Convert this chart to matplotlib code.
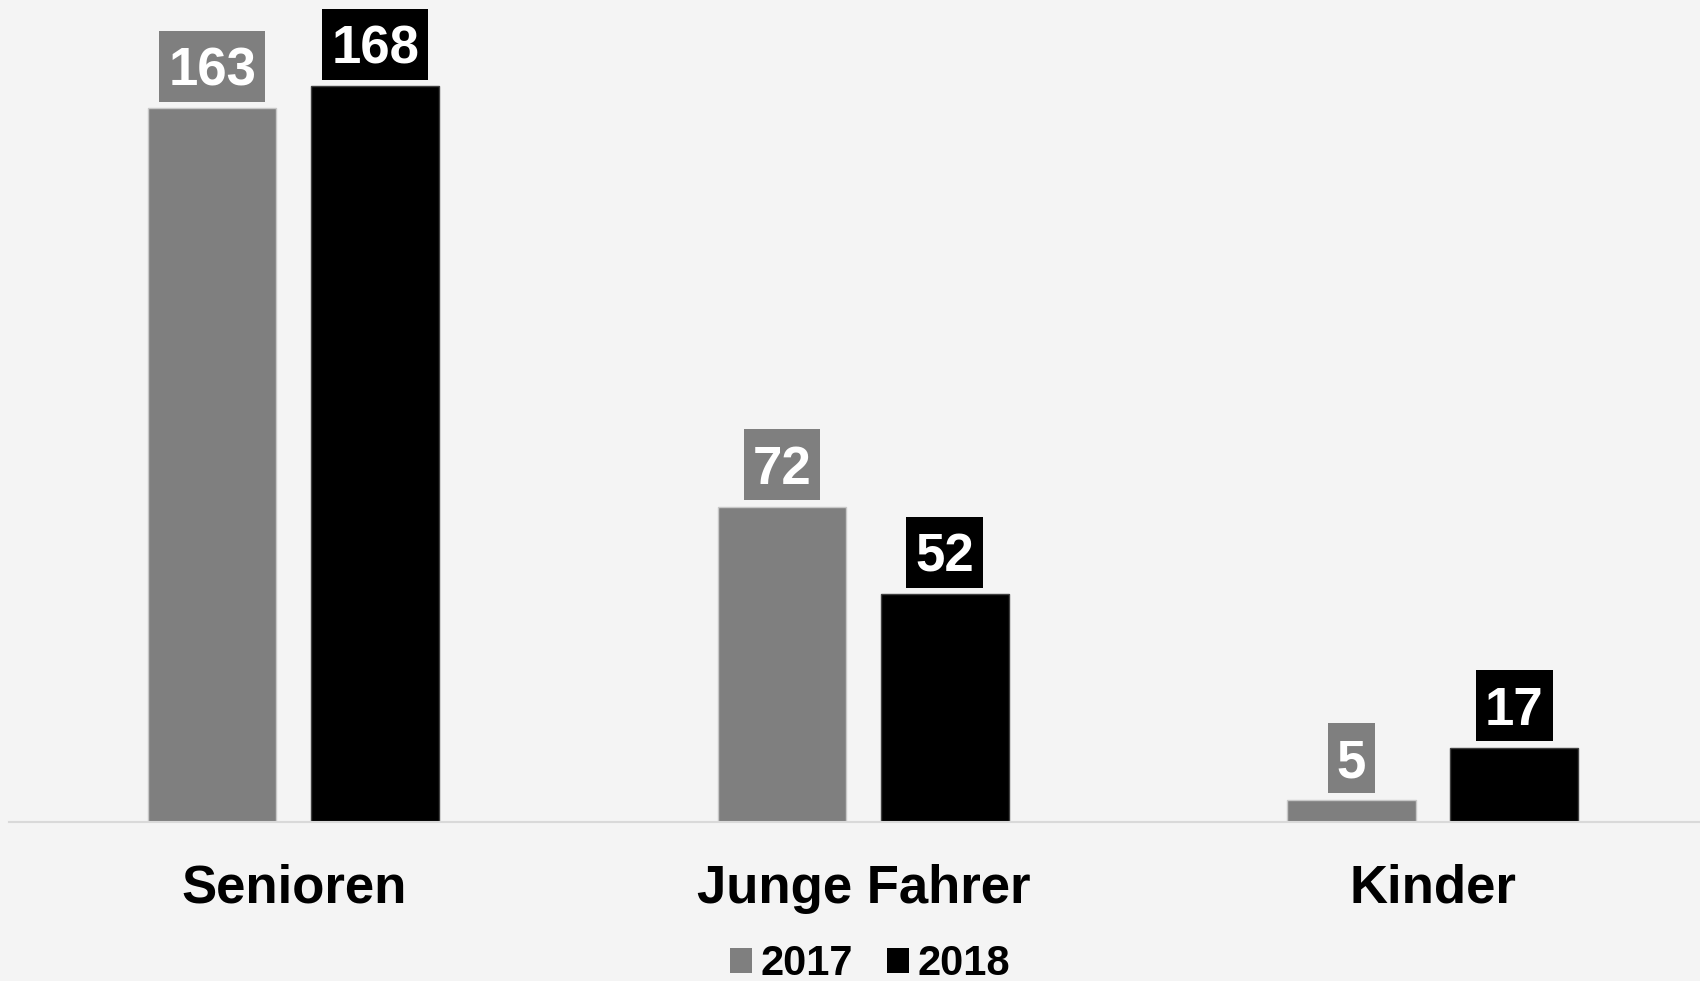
import numpy as np
import matplotlib.pyplot as plt
from matplotlib.patches import Patch
from matplotlib.path import Path

plt.rcParams['font.family'] = ['Liberation Sans', 'DejaVu Sans']
plt.rcParams['font.weight'] = 'bold'

categories = ['Senioren', 'Junge Fahrer', 'Kinder']
years = ['2017', '2018']
values_2017 = [163, 72, 5]
values_2018 = [168, 52, 17]

bg = '#f4f4f4'
col_2017 = '#7f7f7f'
col_2018 = '#000000'


# box around the value labels, more room on top so the digits sit centred
def label_box(x0, y0, width, height, mutation_size):
    px = 0.17 * mutation_size
    pb = 0.10 * mutation_size
    pt = 0.29 * mutation_size
    x1, y1 = x0 - px, y0 - pb
    x2, y2 = x0 + width + px, y0 + height + pt
    return Path([(x1, y1), (x2, y1), (x2, y2), (x1, y2), (x1, y1)], closed=True)


fig = plt.figure(figsize=(17, 9.81), dpi=100, facecolor=bg)
ax = fig.add_axes([9 / 1700, 159 / 981, 1691 / 1700, 822 / 981], facecolor=bg)

x = np.arange(len(categories))
w = 0.225
off = 0.143
b1 = ax.bar(x - off, values_2017, w, color=col_2017, edgecolor='#c8c8c8', linewidth=1)
b2 = ax.bar(x + off, values_2018, w, color=col_2018, edgecolor='#404040', linewidth=1)

for bars, vals, c in [(b1, values_2017, col_2017), (b2, values_2018, col_2018)]:
    for bar, v in zip(bars, vals):
        ax.annotate(str(v), (bar.get_x() + bar.get_width() / 2, v),
                    xytext=(0, 16.5), textcoords='offset points',
                    ha='center', va='baseline', fontsize=38, fontweight='bold',
                    color='white',
                    bbox=dict(boxstyle=label_box, fc=c, ec='none'))

ax.set_xlim(-0.5, 2.469)
ax.set_ylim(0, 187.7)
ax.set_xticks(x)
ax.set_xticklabels(categories, fontsize=38, fontweight='bold')
ax.tick_params(axis='x', length=0, pad=30)
ax.set_yticks([])
for s in ['top', 'right', 'left']:
    ax.spines[s].set_visible(False)
ax.spines['bottom'].set_color('#d9d9d9')
ax.spines['bottom'].set_linewidth(1.5)

handles = [Patch(facecolor=col_2017, label=years[0]),
           Patch(facecolor=col_2018, label=years[1])]
fig.legend(handles=handles, loc='center', bbox_to_anchor=(870 / 1700, 17 / 981),
           ncol=2, frameon=False, prop={'weight': 'bold', 'size': 30},
           handlelength=0.53, handleheight=0.53, handletextpad=0.22,
           columnspacing=0.8, borderpad=0)

fig.savefig('out.png', dpi=100, facecolor=bg)
